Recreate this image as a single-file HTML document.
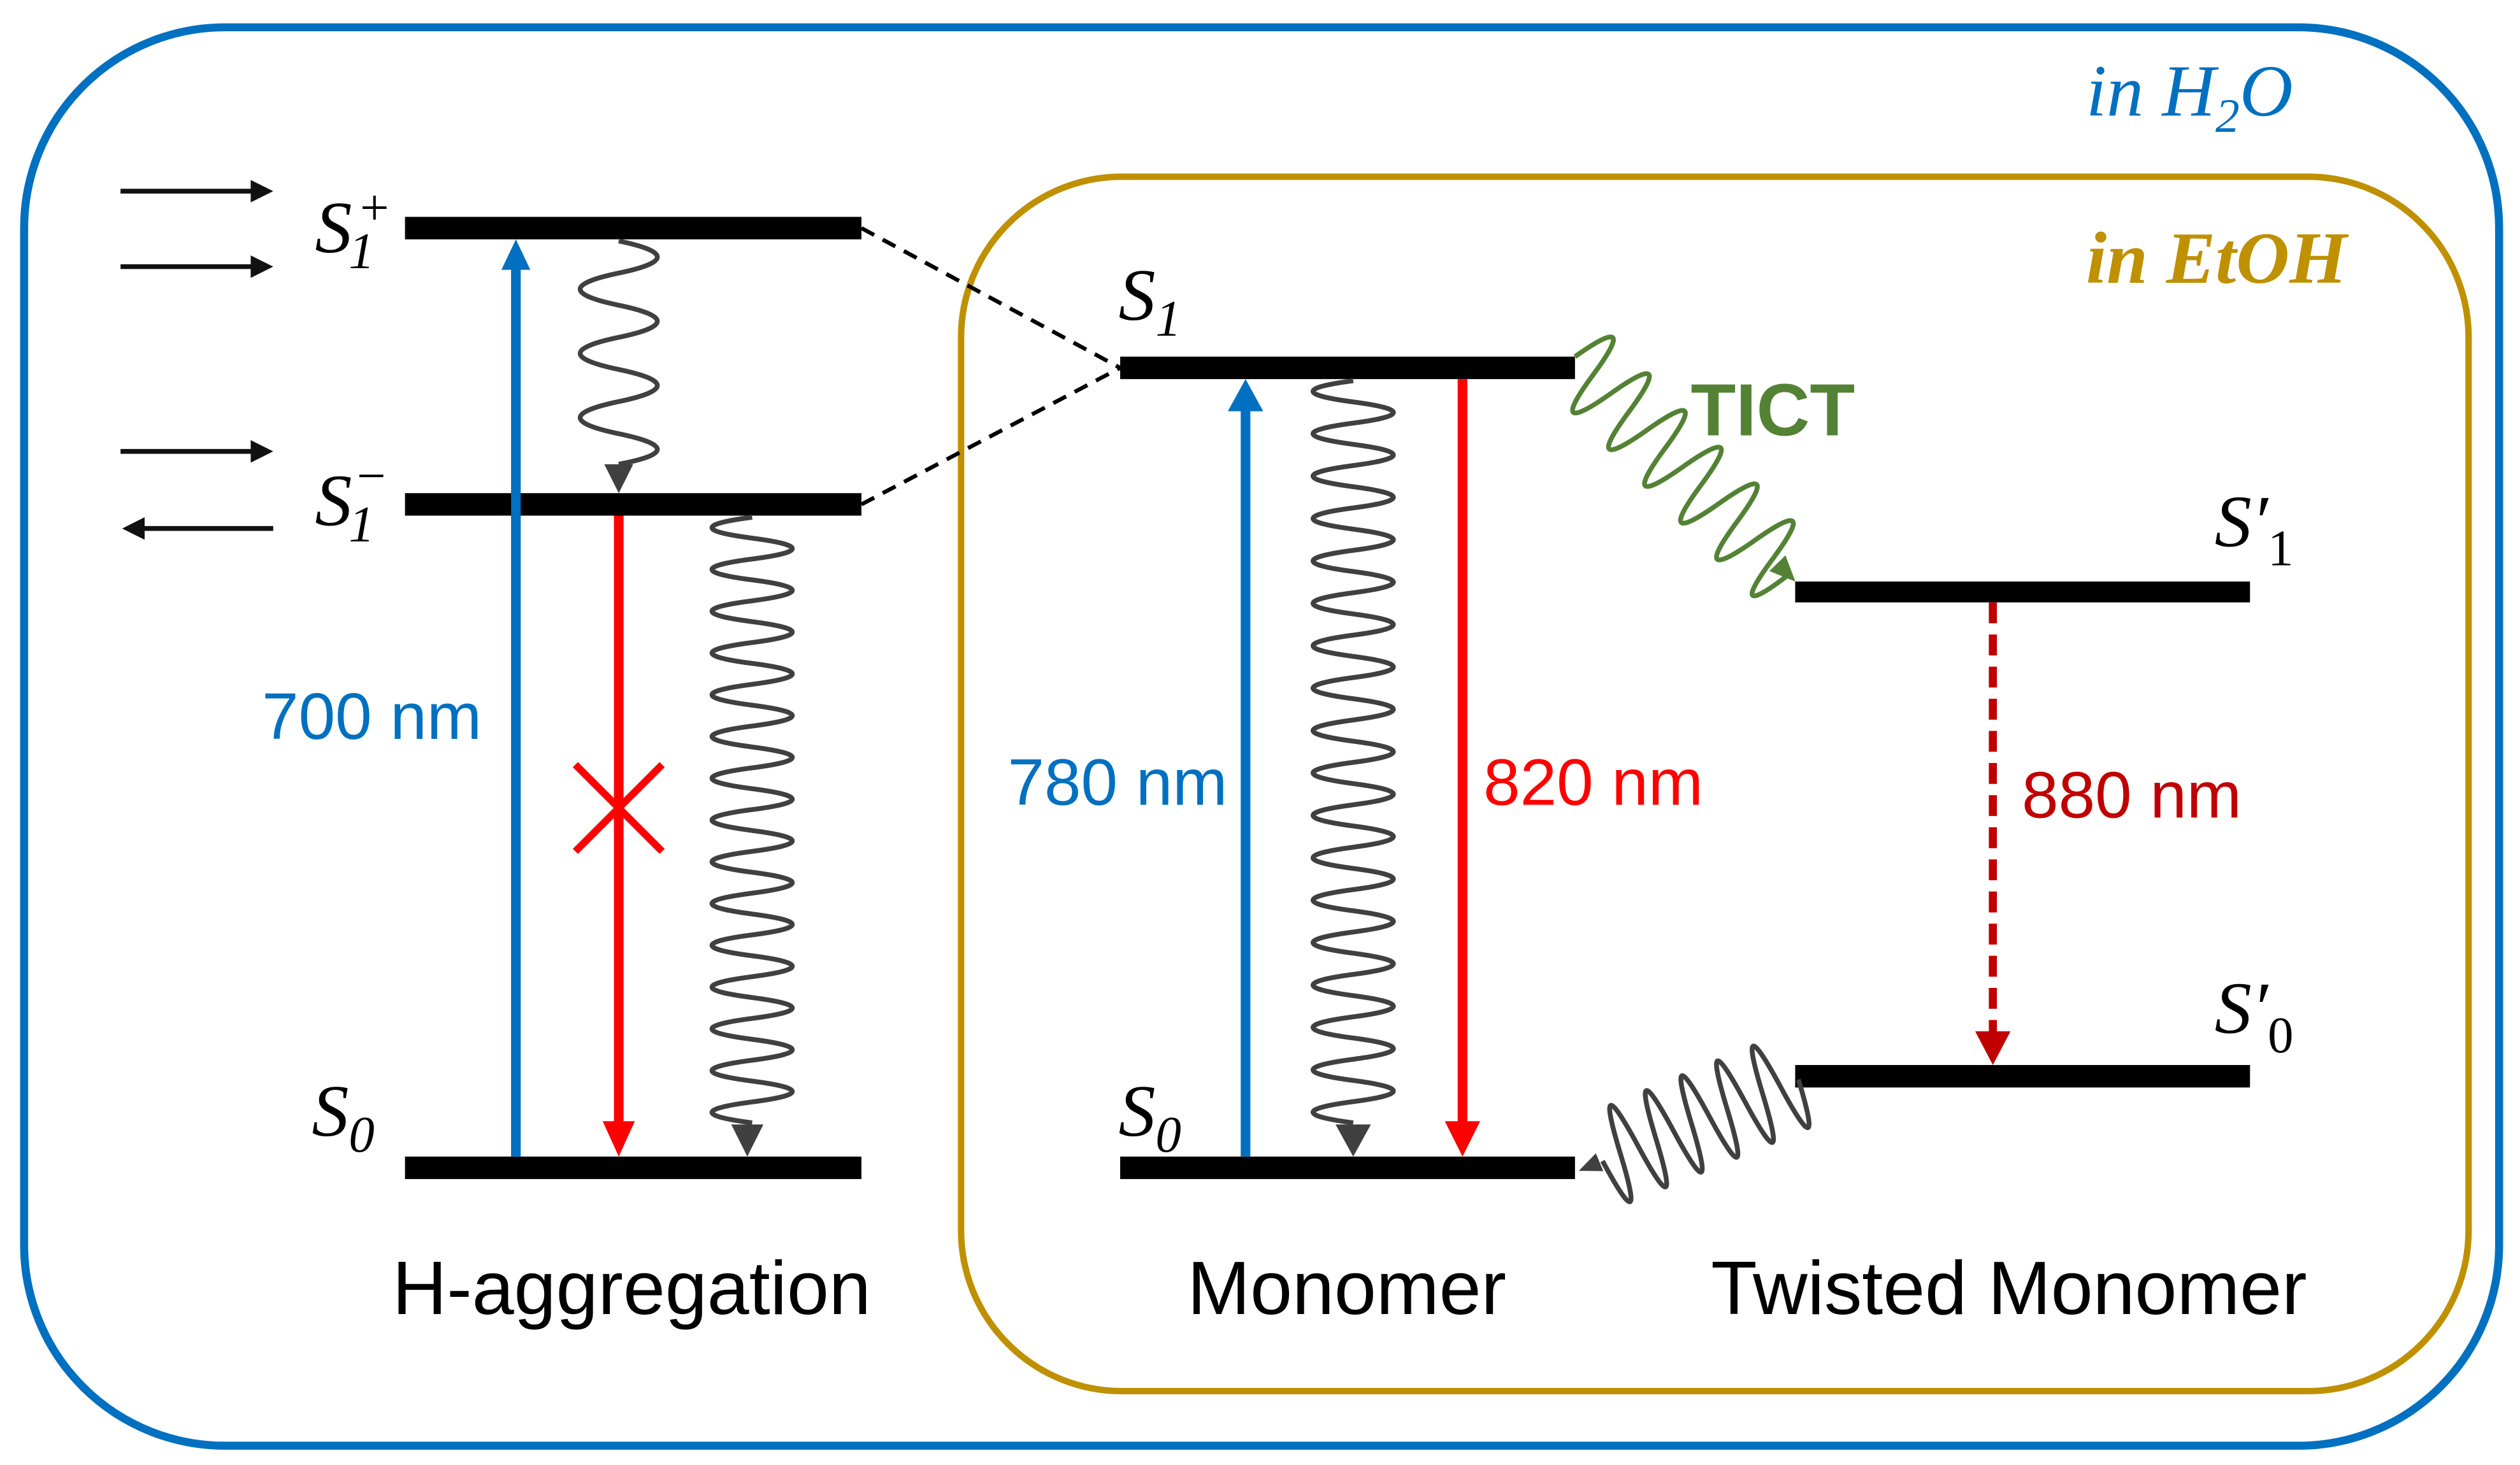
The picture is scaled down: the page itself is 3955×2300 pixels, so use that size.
<!DOCTYPE html>
<html><head><meta charset="utf-8"><style>
html,body{margin:0;padding:0;background:#fff;}
svg{display:block;}
.lab{font-family:"Liberation Sans",Arial,sans-serif;}
.m{font-family:"Liberation Serif",serif;font-style:italic;}
</style></head><body>
<svg width="3955" height="2300" viewBox="0 0 1568 912" preserveAspectRatio="none" xmlns="http://www.w3.org/2000/svg">
<rect x="15" y="17" width="1540" height="883" rx="125" ry="125" fill="none" stroke="#0070C0" stroke-width="5"/>
<rect x="598" y="110" width="938" height="756" rx="100" ry="100" fill="none" stroke="#BF9000" stroke-width="4"/>
<text x="1298" y="72" class="m" font-size="46" fill="#0070C0">in H<tspan font-size="30" dy="10">2</tspan><tspan dy="-10">O</tspan></text>
<text x="1298" y="176" class="m" font-size="46" font-weight="bold" fill="#BF9000">in EtOH</text>

<g stroke="#111" stroke-width="3">
<line x1="75" y1="119" x2="158" y2="119"/><line x1="75" y1="166" x2="158" y2="166"/>
<line x1="75" y1="281" x2="158" y2="281"/><line x1="86" y1="329" x2="170" y2="329"/>
</g>
<g fill="#111">
<polygon points="156,112 170,119 156,126"/><polygon points="156,159 170,166 156,173"/>
<polygon points="156,274 170,281 156,288"/><polygon points="90,322 76,329 90,336"/>
</g>

<g fill="#000">
<rect x="252" y="135" width="284" height="14"/>
<rect x="252" y="307" width="284" height="14"/>
<rect x="252" y="720" width="284" height="14"/>
<rect x="697" y="222" width="283" height="14"/>
<rect x="697" y="720" width="283" height="14"/>
<rect x="1117" y="362" width="283" height="13"/>
<rect x="1117" y="663" width="283" height="14"/>
</g>
<g stroke="#000" stroke-width="2.5" stroke-dasharray="9,6" fill="none">
<line x1="536" y1="142" x2="697" y2="229"/><line x1="536" y1="314" x2="697" y2="229"/>
</g>

<g class="m" font-size="46" fill="#000">
<text x="196" y="157">S<tspan font-size="32" dx="-2" dy="10">1</tspan></text>
<text x="224" y="140" font-size="32" font-style="normal">+</text>
<text x="196" y="327">S<tspan font-size="32" dx="-2" dy="10">1</tspan></text>
<text x="222" y="307" font-size="32" font-style="normal">−</text>
<text x="194" y="707">S<tspan font-size="32" dy="10">0</tspan></text>
<text x="696" y="199">S<tspan font-size="32" dy="10">1</tspan></text>
<text x="696" y="707">S<tspan font-size="32" dy="10">0</tspan></text>
<text x="1378" y="340">S′<tspan font-size="32" font-style="normal" dy="12">1</tspan></text>
<text x="1378" y="643">S′<tspan font-size="32" font-style="normal" dy="12">0</tspan></text>
</g>

<line x1="321" y1="720" x2="321" y2="165" stroke="#0070C0" stroke-width="6"/>
<polygon points="312,168 321,149 330,168" fill="#0070C0"/>
<line x1="385" y1="321" x2="385" y2="700" stroke="#FF0000" stroke-width="6"/>
<polygon points="375,698 385,720 395,698" fill="#FF0000"/>
<g stroke="#FF0000" stroke-width="4.5"><line x1="358" y1="476" x2="412" y2="530"/><line x1="412" y1="476" x2="358" y2="530"/></g>
<path d="M385,150 q48,10 0,20 t0,20 t0,20 t0,20 t0,20 t0,20 t0,19" fill="none" stroke="#404040" stroke-width="3"/>
<polygon points="376,289 385,307 394,289" fill="#404040"/>
<path d="M468,322 q-50,6.5 0,13 t0,13 t0,13 t0,13 t0,13 t0,13 t0,13 t0,13 t0,13 t0,13 t0,13 t0,13 t0,13 t0,13 t0,13 t0,13 t0,13 t0,13 t0,13 t0,13 t0,13 t0,13 t0,13 t0,13 t0,13 t0,13 t0,13 t0,13 t0,13" fill="none" stroke="#404040" stroke-width="3"/>
<polygon points="455,700 465,720 475,700" fill="#404040"/>
<text x="163" y="460" class="lab" font-size="41" fill="#0070C0">700 nm</text>
<text x="393" y="818" class="lab" font-size="47" fill="#000" text-anchor="middle">H-aggregation</text>

<line x1="775" y1="720" x2="775" y2="255" stroke="#0070C0" stroke-width="6"/>
<polygon points="764,256 775,236 786,256" fill="#0070C0"/>
<line x1="910" y1="236" x2="910" y2="700" stroke="#FF0000" stroke-width="6"/>
<polygon points="899,698 910,720 921,698" fill="#FF0000"/>
<path d="M842,237 q-50,6.6 0,13.2 t0,13.2 t0,13.2 t0,13.2 t0,13.2 t0,13.2 t0,13.2 t0,13.2 t0,13.2 t0,13.2 t0,13.2 t0,13.2 t0,13.2 t0,13.2 t0,13.2 t0,13.2 t0,13.2 t0,13.2 t0,13.2 t0,13.2 t0,13.2 t0,13.2 t0,13.2 t0,13.2 t0,13.2 t0,13.2 t0,13.2 t0,13.2 t0,13.2 t0,13.2 t0,13.2 t0,13.2 t0,13.2 t0,13.2 t0,13.2" fill="none" stroke="#404040" stroke-width="3"/>
<polygon points="831,700 842,720 853,700" fill="#404040"/>
<text x="627" y="501" class="lab" font-size="41" fill="#0070C0">780 nm</text>
<text x="923" y="501" class="lab" font-size="41" fill="#FF0000">820 nm</text>
<text x="838" y="818" class="lab" font-size="47" fill="#000" text-anchor="middle">Monomer</text>

<g transform="translate(980,222) rotate(45.6)">
<path d="M0,0 q8,-50 16,0 t16,0 t16,0 t16,0 t16,0 t16,0 t16,0 t16,0 t16,0 t16,0 t16,0 t14,0" fill="none" stroke="#548235" stroke-width="3"/>
<polygon points="180,-7 196,0 180,7" fill="#548235"/>
</g>
<text x="1052" y="271" class="lab" font-size="46" font-weight="bold" fill="#548235">TICT</text>

<line x1="1240" y1="375" x2="1240" y2="645" stroke="#C00000" stroke-width="5" stroke-dasharray="13,7"/>
<polygon points="1229,642 1240,663 1251,642" fill="#C00000"/>
<text x="1258" y="509" class="lab" font-size="41" fill="#C00000">880 nm</text>
<g transform="translate(1119,672) rotate(157.4)">
<path d="M0,0 q6,-60 12,0 t12,0 t12,0 t12,0 t12,0 t12,0 t12,0 t12,0 t12,0 t12,0 t12,0" fill="none" stroke="#404040" stroke-width="3"/>
<polygon points="134,-6 148,0 134,6" fill="#404040"/>
</g>
<text x="1250" y="818" class="lab" font-size="47" fill="#000" text-anchor="middle">Twisted Monomer</text>
</svg>
</body></html>
